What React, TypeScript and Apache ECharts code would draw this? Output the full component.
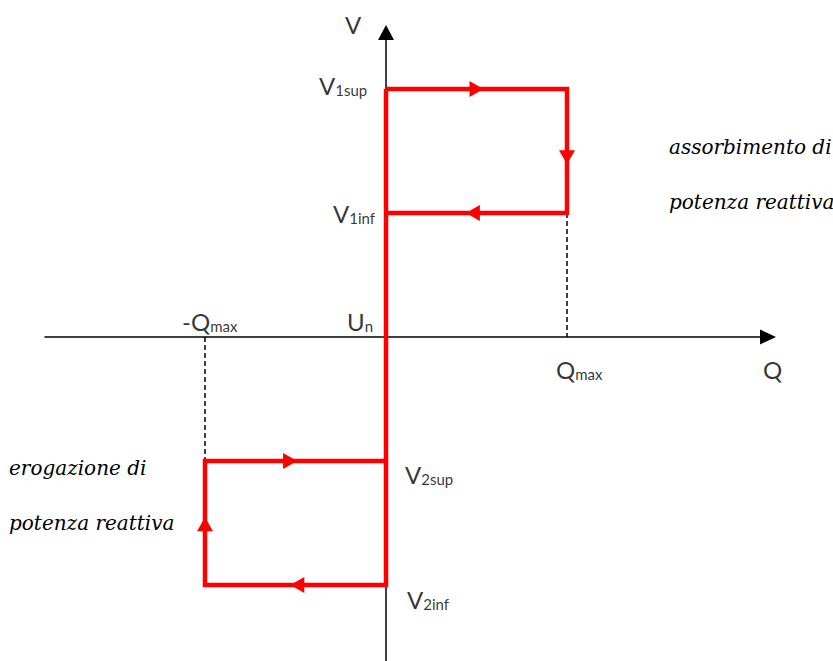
import React, { useEffect, useRef } from 'react';
import * as echarts from 'echarts';

// Reactive power limit (normalised) and voltage thresholds
const Q_MAX = 1;
const vLevelNames = ['V1sup', 'V1inf', 'V2sup', 'V2inf'];
const vLevels = [2, 1, -1, -2];

// Direction arrows along the loops: position (Q, V) and direction
const arrowQ = [0.5, 1, 0.48, -0.53, -1, -0.49];
const arrowV = [2, 1.45, 1, -1, -1.51, -2];
const arrowDir = ['right', 'down', 'left', 'right', 'up', 'left'];

// Axis labels
const labelMain = ['V', 'V', 'V', '-Q', 'U', 'Q', 'Q', 'V', 'V'];
const labelSub = ['', '1sup', '1inf', 'max', 'n', 'max', '', '2sup', '2inf'];

const descRight = ['assorbimento di', 'potenza reattiva'];
const descLeft = ['erogazione di', 'potenza reattiva'];

const X_MIN = -1.884;
const X_MAX = 2.1105;
const Y_MIN = -2.613;
const Y_MAX = 2.4556;

export default function App() {
  const ref = useRef<HTMLDivElement>(null);
  useEffect(() => {
    if (!ref.current) return;
    const chart = echarts.init(ref.current, undefined, { renderer: 'svg' });
    const [V1sup, V1inf, V2sup, V2inf] = vLevels;

    const upperLoop = [[0, V1sup], [Q_MAX, V1sup], [Q_MAX, V1inf], [0, V1inf]];
    const mainBranch = [[0, V1sup], [0, V2sup]];
    const lowerLoop = [[0, V2sup], [-Q_MAX, V2sup], [-Q_MAX, V2inf], [0, V2inf], [0, V2sup]];
    const dashRight = [[Q_MAX, V1inf], [Q_MAX, 0]];
    const dashLeft = [[-Q_MAX, 0], [-Q_MAX, V2sup]];

    const rot: Record<string, number> = { up: 0, down: 180, left: 90, right: -90 };
    const arrows = arrowQ.map((q, i) => ({ value: [q, arrowV[i]], symbolRotate: rot[arrowDir[i]] }));

    const anchors = [
      [0, Y_MAX], [0, V1sup], [0, V1inf], [-Q_MAX, 0], [0, 0], [Q_MAX, 0], [X_MAX, 0], [0, V2sup], [0, V2inf],
    ];
    const offsets = [
      [-41, -10.5], [-67, -5.5], [-53, -1], [-23, -17], [-39, -17], [-11, 31], [-5, 31], [19, 12], [21, 13],
    ];
    const labelData = labelMain.map((m, i) => ({
      value: anchors[i],
      label: {
        offset: offsets[i],
        formatter: labelSub[i] ? `{m|${m}}{s|${labelSub[i]}}` : `{m|${m}}`,
      },
    }));

    const redLine = { color: '#ff0000', width: 4.5, join: 'miter' as const, cap: 'butt' as const };
    const dashLine = { color: '#000', width: 1.5, type: [5, 3] as any };

    const descFont = 'italic 20px "DejaVu Serif"';

    chart.setOption({
      animation: false,
      backgroundColor: '#ffffff',
      grid: { left: 45, right: 65, top: 32.5, bottom: 0 },
      xAxis: {
        type: 'value', min: X_MIN, max: X_MAX,
        axisLine: { show: true, onZero: true, symbol: ['none', 'triangle'], symbolSize: [15, 16], lineStyle: { color: '#000', width: 1.5 } },
        axisTick: { show: false }, axisLabel: { show: false }, splitLine: { show: false },
      },
      yAxis: {
        type: 'value', min: Y_MIN, max: Y_MAX,
        axisLine: { show: true, onZero: true, symbol: ['none', 'triangle'], symbolSize: [16, 15], lineStyle: { color: '#000', width: 1.5 } },
        axisTick: { show: false }, axisLabel: { show: false }, splitLine: { show: false },
      },
      series: [
        { type: 'line', data: dashRight, symbol: 'none', lineStyle: dashLine, z: 1 },
        { type: 'line', data: dashLeft, symbol: 'none', lineStyle: dashLine, z: 1 },
        { type: 'line', data: upperLoop, symbol: 'none', lineStyle: redLine, z: 3 },
        { type: 'line', data: mainBranch, symbol: 'none', lineStyle: redLine, z: 3 },
        { type: 'line', data: lowerLoop, symbol: 'none', lineStyle: redLine, z: 3 },
        {
          type: 'scatter', data: arrows, symbol: 'triangle', symbolSize: [16, 14],
          itemStyle: { color: '#ff0000', opacity: 1 }, z: 4,
        },
        {
          type: 'scatter', data: labelData, symbolSize: 1, itemStyle: { color: 'transparent' }, z: 5,
          label: {
            show: true, position: 'inside', align: 'left', verticalAlign: 'middle',
            rich: {
              m: { fontFamily: 'Lato', fontSize: 24, color: '#000', lineHeight: 28, verticalAlign: 'bottom' },
              s: { fontFamily: 'Lato', fontSize: 15, color: '#000', lineHeight: 16, verticalAlign: 'bottom' },
            },
          },
        },
      ],
      graphic: [
        { type: 'text', x: 669, y: 147, style: { text: descRight[0], font: descFont, fill: '#000', verticalAlign: 'middle' } },
        { type: 'text', x: 669, y: 202, style: { text: descRight[1], font: descFont, fill: '#000', verticalAlign: 'middle' } },
        { type: 'text', x: 9, y: 468, style: { text: descLeft[0], font: descFont, fill: '#000', verticalAlign: 'middle' } },
        { type: 'text', x: 9, y: 523, style: { text: descLeft[1], font: descFont, fill: '#000', verticalAlign: 'middle' } },
      ],
    });
    return () => chart.dispose();
  }, []);
  return <div ref={ref} style={{ position: 'absolute', left: 0, top: 0, width: 833, height: 661 }} />;
}
